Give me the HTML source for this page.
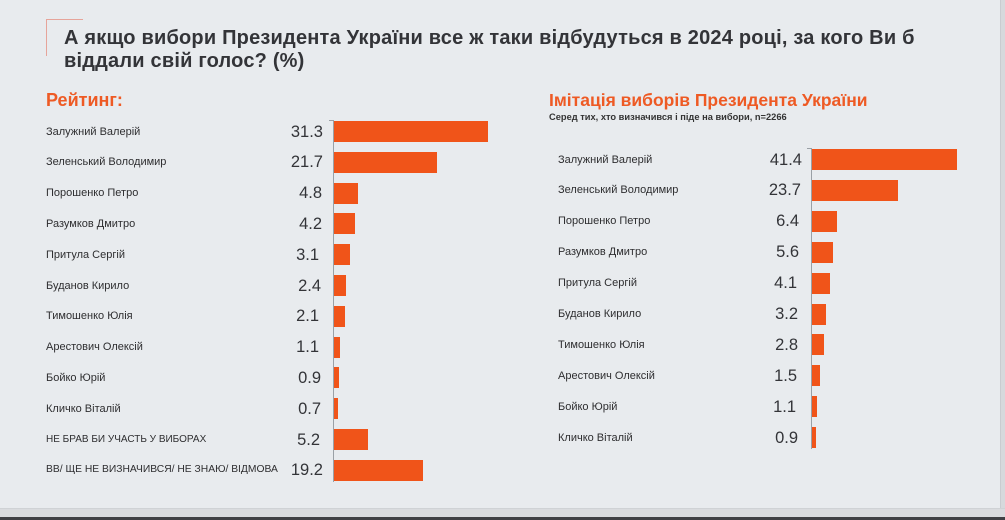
<!DOCTYPE html>
<html><head><meta charset="utf-8">
<style>
html,body{margin:0;padding:0;}
body{width:1005px;height:520px;background:#e8ebee;position:relative;overflow:hidden;font-family:"Liberation Sans","DejaVu Sans",sans-serif;color:#2e2e30;}
.abs{position:absolute;}
.title{left:64px;top:27px;font-size:20px;letter-spacing:0.2px;font-weight:bold;line-height:23px;color:#333438;white-space:nowrap;}
.h{font-size:18px;font-weight:bold;color:#ee5a24;white-space:nowrap;}
.sub{font-size:9.3px;font-weight:bold;color:#333;white-space:nowrap;}
.name{font-size:11px;color:#2e2e30;white-space:nowrap;line-height:14px;}
.caps{font-size:10px;}
.val{font-size:16.5px;color:#333438;white-space:nowrap;text-align:right;width:60px;line-height:20px;}
.bar{background:#f05419;height:21px;}
.axis{background:#9aa0a6;width:1px;}
</style></head><body>
<!-- bracket -->
<div class="abs" style="left:46px;top:19px;width:37px;height:1px;background:#e6a49a;"></div>
<div class="abs" style="left:46px;top:19px;width:1px;height:37px;background:#e6a49a;"></div>
<div class="abs title">А якщо вибори Президента України все ж таки відбудуться в 2024 році, за кого Ви б<br>віддали свій голос? (%)</div>

<div class="abs h" style="left:46px;top:90px;">Рейтинг:</div>
<div class="abs h" style="left:549px;top:90px;font-size:17.5px;">Імітація виборів Президента України</div>
<div class="abs sub" style="left:549px;top:112px;">Серед тих, хто визначився і піде на вибори, n=2266</div>

<!-- left axis -->
<div class="abs axis" style="left:333px;top:120px;height:362px;"></div>
<div class="abs" style="left:329px;top:120px;width:4px;height:1px;background:#9aa0a6;"></div>
<!-- right axis -->
<div class="abs axis" style="left:811px;top:148px;height:301px;"></div>
<div class="abs" style="left:807px;top:148px;width:4px;height:1px;background:#9aa0a6;"></div>

<!-- left rows -->
<div class="abs name" style="left:46px;top:124.5px;">Залужний Валерій</div>
<div class="abs val" style="left:263px;top:121.5px;">31.3</div>
<div class="abs bar" style="left:334px;top:121px;width:154px;"></div>

<div class="abs name" style="left:46px;top:155.3px;">Зеленський Володимир</div>
<div class="abs val" style="left:263px;top:152.3px;">21.7</div>
<div class="abs bar" style="left:334px;top:151.8px;width:103px;"></div>

<div class="abs name" style="left:46px;top:186.1px;">Порошенко Петро</div>
<div class="abs val" style="left:262px;top:183.1px;">4.8</div>
<div class="abs bar" style="left:334px;top:182.6px;width:24px;"></div>

<div class="abs name" style="left:46px;top:216.9px;">Разумков Дмитро</div>
<div class="abs val" style="left:262px;top:213.9px;">4.2</div>
<div class="abs bar" style="left:334px;top:213.4px;width:21px;"></div>

<div class="abs name" style="left:46px;top:247.7px;">Притула Сергій</div>
<div class="abs val" style="left:259px;top:244.7px;">3.1</div>
<div class="abs bar" style="left:334px;top:244.2px;width:16px;"></div>

<div class="abs name" style="left:46px;top:278.5px;">Буданов Кирило</div>
<div class="abs val" style="left:261px;top:275.5px;">2.4</div>
<div class="abs bar" style="left:334px;top:275px;width:12px;"></div>

<div class="abs name" style="left:46px;top:309.3px;">Тимошенко Юлія</div>
<div class="abs val" style="left:259px;top:306.3px;">2.1</div>
<div class="abs bar" style="left:334px;top:305.8px;width:10.5px;"></div>

<div class="abs name" style="left:46px;top:340.1px;">Арестович Олексій</div>
<div class="abs val" style="left:259px;top:337.1px;">1.1</div>
<div class="abs bar" style="left:334px;top:336.6px;width:6px;"></div>

<div class="abs name" style="left:46px;top:370.9px;">Бойко Юрій</div>
<div class="abs val" style="left:261px;top:367.9px;">0.9</div>
<div class="abs bar" style="left:334px;top:367.4px;width:5px;"></div>

<div class="abs name" style="left:46px;top:401.7px;">Кличко Віталій</div>
<div class="abs val" style="left:261px;top:398.7px;">0.7</div>
<div class="abs bar" style="left:334px;top:398.2px;width:3.5px;"></div>

<div class="abs name caps" style="left:46px;top:432.5px;">НЕ БРАВ БИ УЧАСТЬ У ВИБОРАХ</div>
<div class="abs val" style="left:260px;top:429.5px;">5.2</div>
<div class="abs bar" style="left:334px;top:429px;width:34px;"></div>

<div class="abs name caps" style="left:46px;top:463.3px;font-size:10.3px;">ВВ/ ЩЕ НЕ ВИЗНАЧИВСЯ/ НЕ ЗНАЮ/ ВІДМОВА</div>
<div class="abs val" style="left:263px;top:460.3px;">19.2</div>
<div class="abs bar" style="left:334px;top:459.8px;width:89px;"></div>

<!-- right rows -->
<div class="abs name" style="left:558px;top:152.5px;">Залужний Валерій</div>
<div class="abs val" style="left:742px;top:149.5px;">41.4</div>
<div class="abs bar" style="left:812px;top:149px;width:145px;"></div>

<div class="abs name" style="left:558px;top:183.4px;">Зеленський Володимир</div>
<div class="abs val" style="left:741px;top:180.4px;">23.7</div>
<div class="abs bar" style="left:812px;top:179.9px;width:86px;"></div>

<div class="abs name" style="left:558px;top:214.3px;">Порошенко Петро</div>
<div class="abs val" style="left:739px;top:211.3px;">6.4</div>
<div class="abs bar" style="left:812px;top:210.8px;width:25px;"></div>

<div class="abs name" style="left:558px;top:245.2px;">Разумков Дмитро</div>
<div class="abs val" style="left:739px;top:242.2px;">5.6</div>
<div class="abs bar" style="left:812px;top:241.7px;width:21px;"></div>

<div class="abs name" style="left:558px;top:276.1px;">Притула Сергій</div>
<div class="abs val" style="left:737px;top:273.1px;">4.1</div>
<div class="abs bar" style="left:812px;top:272.6px;width:18px;"></div>

<div class="abs name" style="left:558px;top:307px;">Буданов Кирило</div>
<div class="abs val" style="left:738px;top:304px;">3.2</div>
<div class="abs bar" style="left:812px;top:303.5px;width:14px;"></div>

<div class="abs name" style="left:558px;top:337.9px;">Тимошенко Юлія</div>
<div class="abs val" style="left:738px;top:334.9px;">2.8</div>
<div class="abs bar" style="left:812px;top:334.4px;width:11.5px;"></div>

<div class="abs name" style="left:558px;top:368.8px;">Арестович Олексій</div>
<div class="abs val" style="left:737px;top:365.8px;">1.5</div>
<div class="abs bar" style="left:812px;top:365.3px;width:8px;"></div>

<div class="abs name" style="left:558px;top:399.7px;">Бойко Юрій</div>
<div class="abs val" style="left:736px;top:396.7px;">1.1</div>
<div class="abs bar" style="left:812px;top:396.2px;width:5px;"></div>

<div class="abs name" style="left:558px;top:430.6px;">Кличко Віталій</div>
<div class="abs val" style="left:738px;top:427.6px;">0.9</div>
<div class="abs bar" style="left:812px;top:427.1px;width:3.5px;"></div>

<!-- frame -->
<div class="abs" style="left:1000px;top:0;width:5px;height:517px;background:#d6d9dc;"></div>
<div class="abs" style="left:1000px;top:0;width:1px;height:510px;background:#c9ccd0;"></div>
<div class="abs" style="left:0;top:508px;width:1005px;height:9px;background:#d9dbde;"></div>
<div class="abs" style="left:0;top:508px;width:1005px;height:1px;background:#cfd2d5;"></div>
<div class="abs" style="left:0;top:517px;width:1005px;height:3px;background:#3f4044;"></div>
</body></html>
